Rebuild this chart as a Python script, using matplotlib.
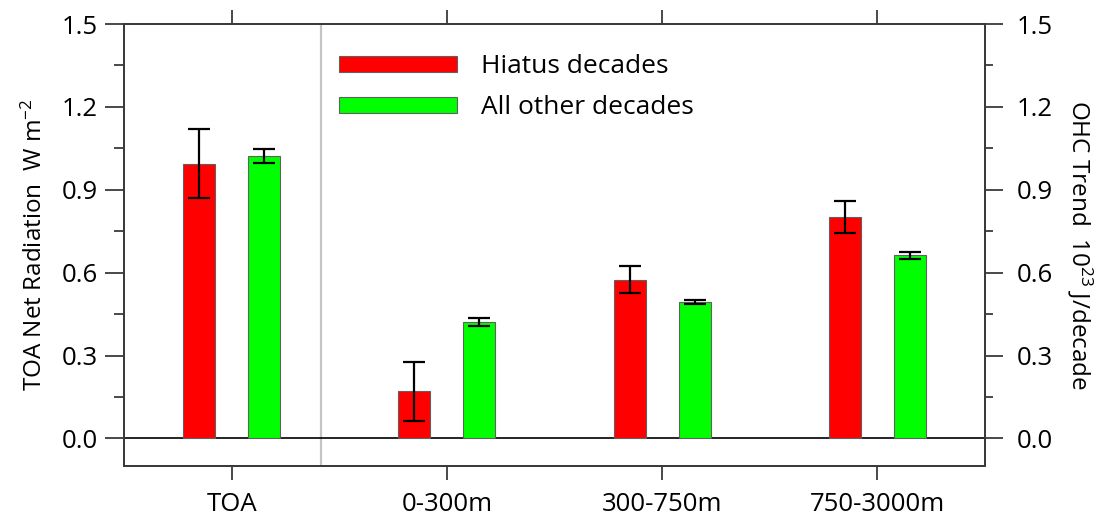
import matplotlib
matplotlib.use("Agg")
import matplotlib.pyplot as plt
import numpy as np
from matplotlib.ticker import MultipleLocator

plt.rcParams['font.family'] = ['Open Sans', 'DejaVu Sans']
plt.rcParams['mathtext.fontset'] = 'custom'
plt.rcParams['mathtext.rm'] = 'Open Sans'
plt.rcParams['mathtext.it'] = 'Open Sans'

categories = ["TOA", "0-300m", "300-750m", "750-3000m"]
hiatus = [0.995, 0.170, 0.575, 0.800]
hiatus_err = [0.124, 0.106, 0.050, 0.058]
other = [1.022, 0.421, 0.493, 0.662]
other_err = [0.026, 0.016, 0.008, 0.014]
series_labels = ["Hiatus decades", "All other decades"]
yticks = [0.0, 0.3, 0.6, 0.9, 1.2, 1.5]

W, H = 1109, 516
fig = plt.figure(figsize=(W / 100, H / 100), dpi=100)
ax = fig.add_axes([124 / W, 1 - 466 / H, (985 - 124) / W, (466 - 24) / H])

x = np.arange(len(categories))
bw = 0.149
off = 0.151
spine_c = "#3a3a3a"

ax.bar(x - off, hiatus, bw, color="#ff0000", edgecolor="#606060", linewidth=0.8,
       label=series_labels[0], zorder=3)
ax.bar(x + off, other, bw, color="#00ff00", edgecolor="#606060", linewidth=0.8,
       label=series_labels[1], zorder=3)
ax.errorbar(x - off, hiatus, yerr=hiatus_err, fmt="none", ecolor="black",
            elinewidth=1.6, capsize=8, capthick=1.6, zorder=4)
ax.errorbar(x + off, other, yerr=other_err, fmt="none", ecolor="black",
            elinewidth=1.6, capsize=8, capthick=1.6, zorder=4)

ax.axhline(0, color="black", linewidth=1.2, zorder=2)
ax.axvline(0.414, color="#c4c4c4", linewidth=1.6, zorder=1)

ax.set_xlim(-0.5, 3.5)
ax.set_ylim(-0.1, 1.5)
ax.set_xticks(x)
ax.set_xticklabels(categories, fontsize=18.5)
ax.set_yticks(yticks)
ax.set_yticklabels([f"{v:.1f}" for v in yticks], fontsize=18.5)
ax.yaxis.set_minor_locator(MultipleLocator(0.15))
ax.tick_params(axis="x", which="both", direction="out", length=10, width=1.3,
               color=spine_c, top=True, bottom=True, pad=9)
ax.tick_params(axis="y", which="major", direction="out", length=14, width=1.3,
               color=spine_c, pad=5, right=False)
ax.tick_params(axis="y", which="minor", direction="out", length=7.5, width=1.3,
               color=spine_c, right=False)
for s in ax.spines.values():
    s.set_color(spine_c)
    s.set_linewidth(1.3)

ax.set_ylabel("TOA Net Radiation  W m$^{\\mathregular{-2}}$", fontsize=17.5, labelpad=10)

ax2 = ax.twinx()
ax2.set_ylim(-0.1, 1.5)
ax2.set_yticks(yticks)
ax2.set_yticklabels([f"{v:.1f}" for v in yticks], fontsize=18.5)
ax2.yaxis.set_minor_locator(MultipleLocator(0.15))
ax2.tick_params(axis="y", which="major", direction="out", length=13, width=1.3,
                color=spine_c, pad=10)
ax2.tick_params(axis="y", which="minor", direction="out", length=6, width=1.3,
                color=spine_c)
for s in ax2.spines.values():
    s.set_color(spine_c)
    s.set_linewidth(1.3)
ax2.set_ylabel("OHC Trend  10$^{\\mathregular{23}}$ J/decade", fontsize=17.5, rotation=270,
               labelpad=30)

leg = ax.legend(loc="upper left", bbox_to_anchor=(0.237, 0.955), frameon=False,
                fontsize=19, handlelength=4.5, handleheight=0.55,
                handletextpad=0.9, labelspacing=0.6, borderaxespad=0)

fig.savefig("out.png", dpi=100)
